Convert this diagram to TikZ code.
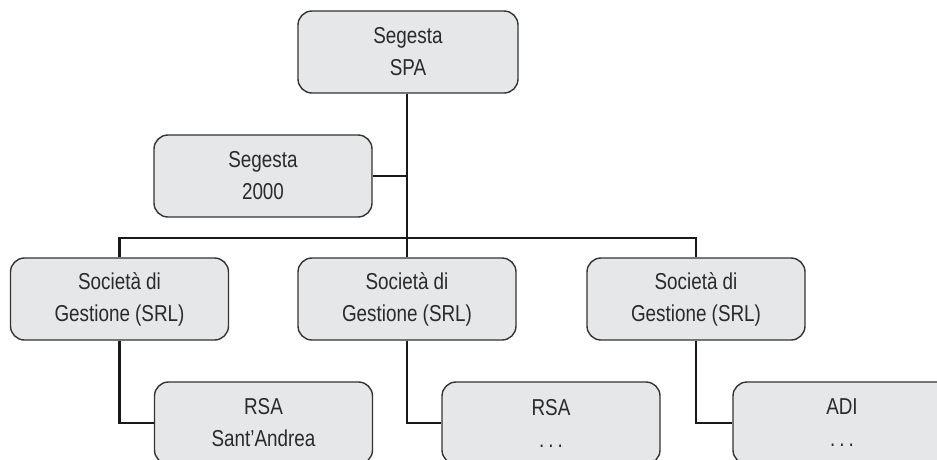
\documentclass[tikz,border=0pt]{standalone}
\usepackage{fontspec}
\setmainfont{Liberation Sans}[FakeStretch=0.82]
\definecolor{boxfill}{HTML}{E6E7E8}
\definecolor{boxline}{HTML}{333333}
\definecolor{txt}{HTML}{2A2A2A}
\begin{document}
\begin{tikzpicture}[x=1pt,y=-1pt,
  orgbox/.style={draw=boxline, fill=boxfill, line width=1.4pt, rounded corners=14pt,
    minimum width=218pt, minimum height=82pt, align=center, text=txt,
    font=\fontsize{23}{32}\selectfont, inner sep=0pt},
  link/.style={draw=black!90, line width=2.6pt}]
\useasboundingbox (0,0) rectangle (937,459);
\clip (0,0) rectangle (937,459);
\node[orgbox, minimum width=220pt] (top) at (408,52) {Segesta\\SPA};
\node[orgbox] (s2000) at (263,176) {Segesta\\2000};
\node[orgbox] (g1) at (119.5,299) {Società di\\Gestione (SRL)};
\node[orgbox] (g2) at (407,299) {Società di\\Gestione (SRL)};
\node[orgbox] (g3) at (696,299) {Società di\\Gestione (SRL)};
\node[orgbox] (r1) at (263.5,423) {RSA\\Sant’Andrea};
\node[orgbox] (r2) at (551,423) {RSA\\.\kern4pt.\kern4pt.};
\node[orgbox] (r3) at (842,423) {ADI\\.\kern4pt.\kern4pt.};
\coordinate (bus) at (407,238);
\draw[link] (top.south -| g2.north) -- (g2.north);
\draw[link] (s2000.east) -- (s2000.east -| g2.north);
\draw[link] (g1.north) |- (bus) -| (g3.north);
\draw[link] (g1.south) |- (r1.west);
\draw[link] (g2.south) |- (r2.west);
\draw[link] (g3.south) |- (r3.west);
\end{tikzpicture}
\end{document}
